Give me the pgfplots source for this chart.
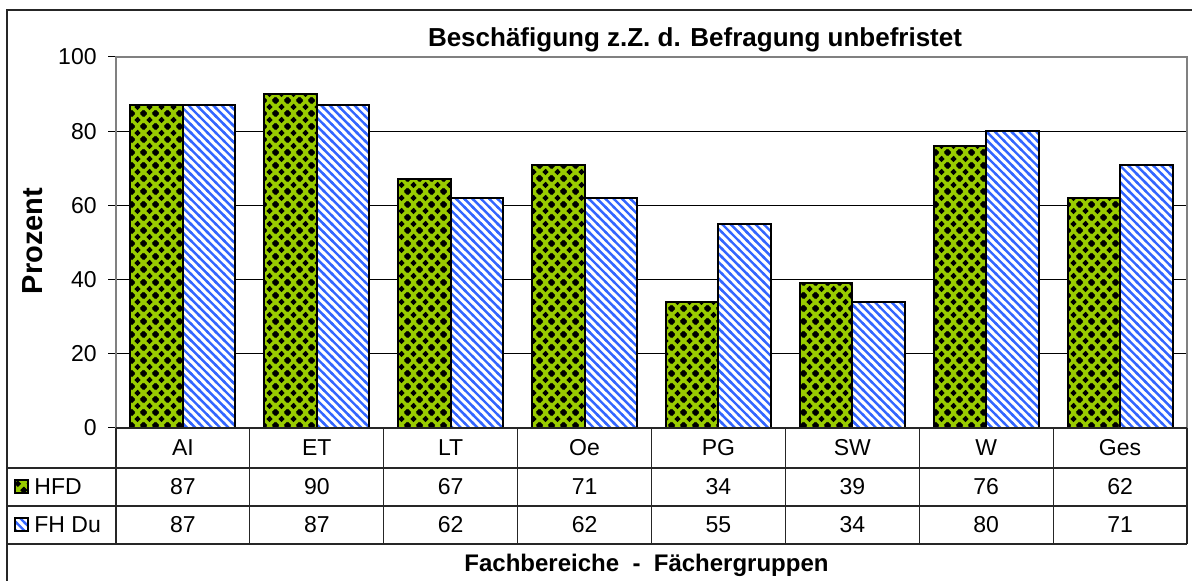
\documentclass[border=0pt]{standalone}
\usepackage{fontspec}
\setmainfont{Liberation Sans}
\usepackage{pgfplots}
\pgfplotsset{compat=1.18}
\usepackage{pgfplotstable}
\usetikzlibrary{patterns}
\definecolor{hfdgreen}{RGB}{153,204,0}
\definecolor{fhblue}{RGB}{51,102,255}
\newcommand\dia[2]{%
    \pgfpathmoveto{\pgfqpoint{#1}{\dimexpr#2-1.7pt\relax}}%
    \pgfpathlineto{\pgfqpoint{\dimexpr#1+1.7pt\relax}{#2}}%
    \pgfpathlineto{\pgfqpoint{#1}{\dimexpr#2+1.7pt\relax}}%
    \pgfpathlineto{\pgfqpoint{\dimexpr#1-1.7pt\relax}{#2}}%
    \pgfpathclose}
\pgfdeclarepatternformonly{diamondgrid}{\pgfqpoint{0pt}{0pt}}{\pgfqpoint{6pt}{6.5pt}}{\pgfqpoint{6pt}{6.5pt}}{%
  \dia{3pt}{3.25pt}\dia{0pt}{0pt}\dia{6pt}{0pt}\dia{0pt}{6.5pt}\dia{6pt}{6.5pt}%
  \pgfusepath{fill}}
\pgfdeclarepatternformonly{nwstripes}{\pgfqpoint{-1pt}{-1pt}}{\pgfqpoint{5.15pt}{5.15pt}}{\pgfqpoint{4.15pt}{4.15pt}}{%
  \pgfsetlinewidth{1.2pt}%
  \pgfpathmoveto{\pgfqpoint{-0.5pt}{4.65pt}}\pgfpathlineto{\pgfqpoint{4.65pt}{-0.5pt}}%
  \pgfusepath{stroke}}
\pgfplotsset{/pgf/number format/assume math mode=true}
\pgfplotstableread{
x name HFD FH
0 AI 87 87
1 ET 90 87
2 LT 67 62
3 Oe 71 62
4 PG 34 55
5 SW 39 34
6 W 76 80
7 Ges 62 71
}\data
\newcommand\tabfont{\fontsize{11.5}{13}\selectfont}
\begin{document}
\begin{tikzpicture}
\useasboundingbox (0,0) rectangle (596pt,290.5pt);
\draw[black!85, line width=0.8pt] (3.5pt,-5pt) rectangle (610pt,285.5pt);
\begin{axis}[
  at={(58pt,76.5pt)}, anchor=south west,
  scale only axis, width=535.5pt, height=185.5pt,
  xmin=-0.5, xmax=7.5, ymin=0, ymax=100,
  xtick=\empty, ytick={0,20,...,100},
  ytick pos=left, tick align=outside, major tick length=4pt,
  tick style={black, line width=0.5pt},
  ymajorgrids, grid style={black, line width=0.5pt},
  axis line style={black!50, line width=1pt},
  yticklabel style={font=\tabfont, inner sep=0pt, xshift=-5.5pt},
  clip=false,
  nodes near coords style={font=\tabfont, anchor=center, inner sep=0pt},
]
\addplot[ybar, bar width=0.392, bar shift=-0.196, draw=black, line width=1pt,
  preaction={fill=hfdgreen}, pattern=diamondgrid, pattern color=black]
  table[x=x, y=HFD]{\data};
\addplot[ybar, bar width=0.392, bar shift=0.196, draw=black, line width=1pt,
  preaction={fill=white}, pattern=nwstripes, pattern color=fhblue]
  table[x=x, y=FH]{\data};
\addplot[draw=none, mark=none, nodes near coords, point meta=explicit symbolic]
  table[x=x, y expr=-5.4, meta=name]{\data};
\addplot[draw=none, mark=none, nodes near coords, point meta=explicit]
  table[x=x, y expr=-15.9, meta=HFD]{\data};
\addplot[draw=none, mark=none, nodes near coords, point meta=explicit]
  table[x=x, y expr=-26.1, meta=FH]{\data};
\end{axis}
\begin{scope}[black!85, line width=0.6pt]
\draw (58pt,76.5pt) -- (593.5pt,76.5pt);
\foreach \y in {56.5,37.5,18.5} \draw (3.5pt,\y pt) -- (593.5pt,\y pt);
\foreach \k in {0,...,8} \draw ({58pt+\k*66.9375pt},18.5pt) -- ++(0,58pt);
\end{scope}
\fill[hfdgreen] (7.5pt,44pt) rectangle (14pt,50.5pt);
\draw[line width=0.9pt, pattern=diamondgrid, pattern color=black] (7.5pt,44pt) rectangle (14pt,50.5pt);
\draw[line width=0.9pt, pattern=nwstripes, pattern color=fhblue] (7.5pt,25pt) rectangle (14pt,31.5pt);
\node[font=\tabfont, anchor=west, inner sep=0pt] at (17pt,47pt) {HFD};
\node[font=\tabfont, anchor=west, inner sep=0pt] at (17pt,28pt) {FH Du};
\node[font=\bfseries\fontsize{13}{15}\selectfont] at (347.5pt,270.5pt) {Beschäfigung z.Z. d. Befragung unbefristet};
\node[font=\bfseries\fontsize{14.5}{16}\selectfont, rotate=90, anchor=base, inner sep=0pt] at (21pt,170pt) {Prozent};
\node[font=\bfseries\fontsize{12}{14}\selectfont] at (323.25pt,8pt) {Fachbereiche\ \ -\ \ Fächergruppen};
\end{tikzpicture}
\end{document}
